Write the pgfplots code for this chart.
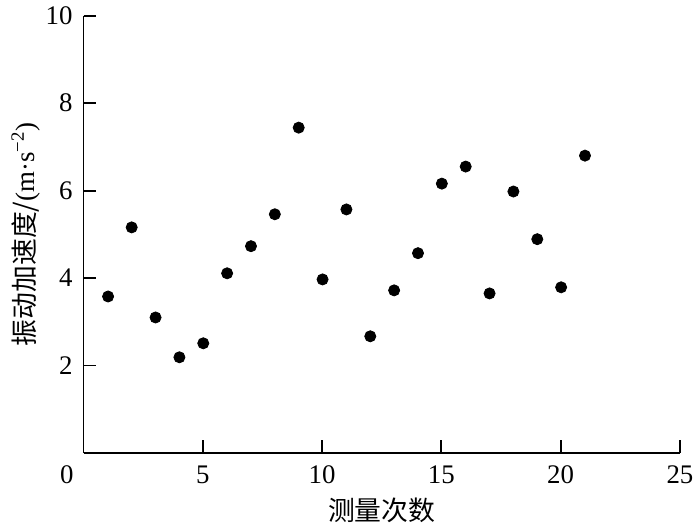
\documentclass[border=0pt]{standalone}
\usepackage{fontspec}
\setmainfont{Liberation Serif}
\newfontfamily\cjk{Noto Sans CJK SC}
\usepackage{pgfplots}
\pgfplotsset{compat=1.18}

\begin{document}
\begin{tikzpicture}
\begin{axis}[
  name=ax,
  scale only axis,
  width=300pt, height=220pt,
  xmin=0, xmax=25, ymin=0, ymax=10,
  axis lines*=left,
  axis line style={line width=0.9pt},
  xtick={0,5,...,25}, ytick={2,4,...,10},
  xticklabels={{\makebox[0pt][r]{0\hspace{5pt}}},5,10,15,20,25},
  tick align=inside,
  major tick length=6.5pt,
  tick style={line width=0.9pt, black},
  every tick label/.append style={font=\fontsize{13.5}{15}\selectfont},
  /pgf/number format/assume math mode=true,
  xticklabel style={yshift=-3pt},
  yticklabel style={xshift=-2pt},
  xlabel={\cjk 测量次数},
  ylabel={\cjk 振动加速度/\rmfamily(m·s\textsuperscript{−2})},
  label style={font=\fontsize{13.5}{15}\selectfont},
  xlabel style={yshift=0pt},
  ylabel style={yshift=-4pt},
  clip=false,
]
\addplot[only marks, mark=*, mark size=2.8pt, black] coordinates {
  (1.03,3.58) (2.02,5.16) (3.02,3.10) (4.02,2.19) (5.02,2.51) (6.02,4.11) (7.02,4.73)
  (8.02,5.46) (9.02,7.44) (10.02,3.97) (11.02,5.57) (12.02,2.67) (13.02,3.72) (14.02,4.57)
  (15.02,6.16) (16.02,6.55) (17.02,3.65) (18.02,5.98) (19.02,4.89) (20.02,3.79) (21.02,6.80)
};
\end{axis}
\useasboundingbox ([xshift=-42pt,yshift=-36.5pt]ax.south west) rectangle ([xshift=8pt,yshift=7pt]ax.north east);
\end{tikzpicture}
\end{document}
